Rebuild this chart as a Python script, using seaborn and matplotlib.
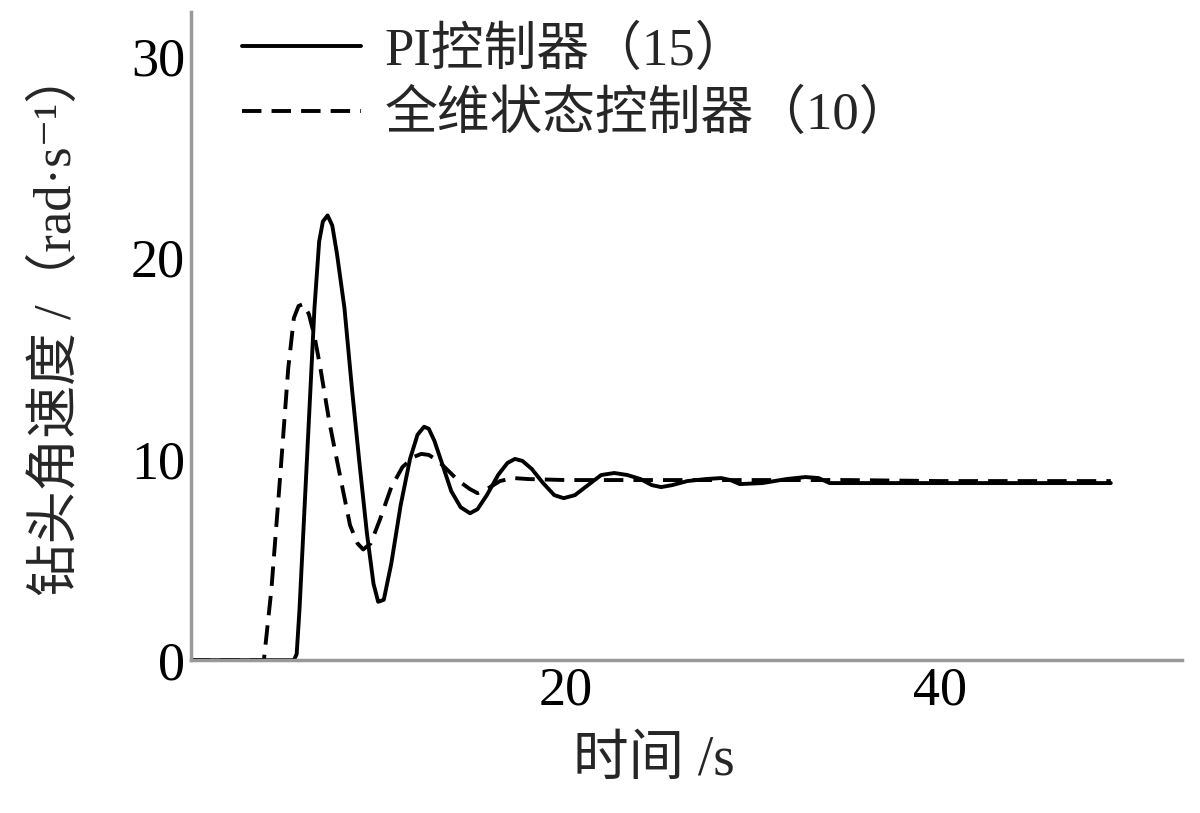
import matplotlib
matplotlib.use("Agg")
import matplotlib.pyplot as plt
import seaborn as sns
import pandas as pd

# PI controller (15) response
t_pi = [0, 5.5, 5.65, 5.8, 6.2, 6.6, 6.85, 7.05, 7.3, 7.55, 7.8, 8.2, 8.6, 9.0, 9.4,
        9.75, 10.0, 10.3, 10.7, 11.2, 11.7, 12.1, 12.45, 12.7, 13.0, 13.4, 13.9, 14.4,
        14.9, 15.3, 15.8, 16.4, 16.9, 17.3, 17.7, 18.2, 18.8, 19.4, 19.9, 20.5, 21.2,
        21.9, 22.6, 23.3, 24.0, 24.6, 25.1, 25.7, 26.5, 27.5, 28.3, 28.8, 29.3, 30.5,
        31.8, 32.8, 33.5, 34.1, 36.0, 40.0, 45.0, 49.1]
v_pi = [0, 0, 0.3, 2.5, 10.0, 17.5, 20.8, 21.8, 22.1, 21.6, 20.2, 17.5, 13.5, 9.8, 6.3,
        3.8, 2.9, 3.0, 4.8, 7.7, 10.0, 11.2, 11.6, 11.5, 10.9, 9.8, 8.4, 7.6,
        7.3, 7.5, 8.2, 9.2, 9.8, 10.0, 9.9, 9.5, 8.8, 8.2, 8.05, 8.2, 8.7,
        9.2, 9.3, 9.2, 9.0, 8.7, 8.6, 8.7, 8.9, 9.0, 9.05, 8.95, 8.75, 8.8,
        9.0, 9.1, 9.05, 8.8, 8.8, 8.8, 8.8, 8.8]

# full-state controller (10) response
t_fs = [0, 3.9, 4.3, 4.8, 5.2, 5.5, 5.75, 6.0, 6.3, 6.6, 6.9, 7.4, 8.0, 8.5, 8.9, 9.2,
        9.6, 10.1, 10.7, 11.3, 11.9, 12.3, 12.7, 13.2, 13.7, 14.3, 14.9, 15.3, 15.8,
        16.5, 17.2, 18.0, 20.0, 25.0, 30.0, 35.0, 40.0, 45.0, 49.1]
v_fs = [0, 0, 3.5, 9.5, 14.5, 17.0, 17.6, 17.7, 17.2, 16.1, 14.6, 11.8, 9.0, 6.7, 5.8, 5.5,
        5.8, 7.0, 8.6, 9.6, 10.1, 10.25, 10.2, 9.9, 9.45, 8.9, 8.5, 8.3, 8.5,
        8.9, 9.05, 9.0, 8.95, 8.95, 8.95, 8.95, 8.9, 8.9, 8.9]

lbl_pi = "PI控制器（15）"
lbl_fs = "全维状态控制器（10）"

df = pd.concat([
    pd.DataFrame({"t": t_pi, "v": v_pi, "ctrl": lbl_pi}),
    pd.DataFrame({"t": t_fs, "v": v_fs, "ctrl": lbl_fs}),
])

sns.set_style("white")
plt.rcParams["font.family"] = ["Liberation Serif", "Noto Sans CJK SC", "DejaVu Serif"]

fig = plt.figure(figsize=(12, 8.13), dpi=100)
ax = fig.add_axes([0.159, 0.188, 0.826, 0.797])

sns.lineplot(data=df, x="t", y="v", style="ctrl", color="black", estimator=None,
             sort=False, dashes={lbl_pi: "", lbl_fs: (5, 2.6)}, linewidth=2.8, ax=ax)

ax.set_xlim(0, 52.9)
ax.set_ylim(0, 32.2)
ax.set_xticks([20, 40])
ax.set_yticks([0, 10, 20, 30])

for s in ["top", "right"]:
    ax.spines[s].set_visible(False)
for s in ["left", "bottom"]:
    ax.spines[s].set_color("#999999")
    ax.spines[s].set_linewidth(2.5)
ax.tick_params(direction="in", length=11, width=1.5, color="#999999",
               labelsize=39, pad=4, labelcolor="black")

ax.set_xlabel("时间 /s", fontsize=40)
ax.set_ylabel("钻头角速度 /（rad·s⁻¹）", fontsize=38)
ax.xaxis.set_label_coords(0.467, -0.115)
ax.yaxis.set_label_coords(-0.110, 0.52)

ax.legend(loc="upper left", bbox_to_anchor=(0.03, 1.012), frameon=False, fontsize=38,
          handlelength=2.27, handletextpad=0.44, labelspacing=0.27, borderaxespad=0)

fig.savefig("out.png", dpi=100)
